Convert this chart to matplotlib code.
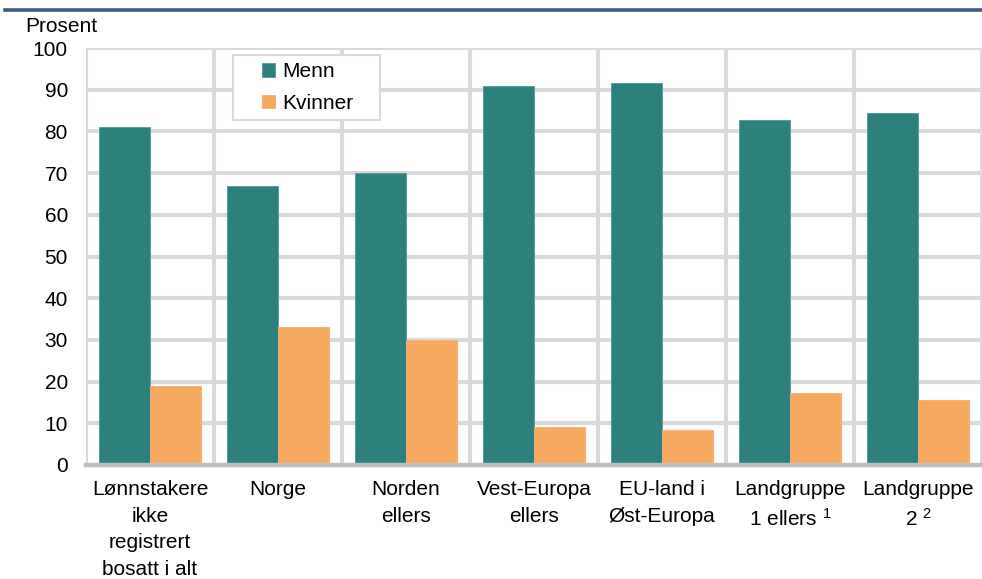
import matplotlib
matplotlib.use("Agg")
import matplotlib.pyplot as plt
import numpy as np
from matplotlib.lines import Line2D
from matplotlib.patches import Rectangle

categories = ["Lønnstakere\nikke\nregistrert\nbosatt i alt", "Norge", "Norden\nellers",
              "Vest-Europa\nellers", "EU-land i\nØst-Europa", "Landgruppe\n1 ellers $^{1}$",
              "Landgruppe\n2 $^{2}$"]
menn = [81.0, 67.0, 70.0, 91.0, 91.5, 82.8, 84.4]
kvinner = [19.0, 33.0, 30.0, 9.0, 8.5, 17.2, 15.6]
yticks = list(range(0, 101, 10))

plt.rcParams['font.family'] = ['Liberation Sans', 'DejaVu Sans']
plt.rcParams['font.size'] = 15
plt.rcParams['mathtext.fontset'] = 'custom'
plt.rcParams['mathtext.rm'] = 'Liberation Sans'
plt.rcParams['mathtext.it'] = 'Liberation Sans:italic'
plt.rcParams['mathtext.default'] = 'regular'

MENN = '#2c817f'
KVIN = '#f7aa5f'
GRID = '#d9d9d9'

fig = plt.figure(figsize=(9.82, 5.79), dpi=100)
ax = fig.add_axes([86/982, (579-465)/579, (982-86)/982, 417/579])

x = np.arange(len(categories))
ax.bar(x - 0.2, menn, width=0.4, color=MENN, edgecolor='#4f9997', linewidth=0.6, zorder=3, label='Menn')
ax.bar(x + 0.2, kvinner, width=0.4, color=KVIN, edgecolor='#f4b06e', linewidth=0.6, zorder=3, label='Kvinner')

ax.set_xlim(-0.5, len(categories) - 0.5)
ax.set_ylim(0, 100)
ax.set_yticks(yticks)
ax.set_xticks(x)
ax.set_xticklabels(categories, linespacing=1.5)
ax.set_xticks(np.arange(-0.5, len(categories) + 0.5, 1), minor=True)
ax.grid(True, which='major', axis='y', color=GRID, linewidth=3.0, zorder=0)
ax.grid(True, which='minor', axis='x', color=GRID, linewidth=3.0, zorder=0)
ax.set_axisbelow(True)
ax.tick_params(axis='both', which='both', length=0)
ax.tick_params(axis='y', pad=13)
ax.tick_params(axis='x', pad=11)
for s in ['top', 'right', 'left']:
    ax.spines[s].set_visible(False)
ax.spines['bottom'].set_color('#bfbfbf')
ax.spines['bottom'].set_linewidth(3.2)
ax.spines['bottom'].set_zorder(4)

# legend frame
ax.add_patch(Rectangle((0.164, 0.827), 0.164, 0.156, transform=ax.transAxes,
                       facecolor='white', edgecolor=GRID, linewidth=1.5, zorder=5))
leg = ax.legend(loc='upper left', bbox_to_anchor=(0.196, 0.966), frameon=False,
                borderpad=0, handlelength=0.62, handleheight=0.62, handletextpad=0.35,
                labelspacing=0.6, borderaxespad=0)
leg.set_zorder(6)

fig.text(25/982, 1 - 32/579, 'Prosent', ha='left', va='baseline', fontsize=15)
fig.add_artist(Line2D([5/982, 1.0], [1 - 10/579, 1 - 10/579], color='#3e5a84', linewidth=2.6))

fig.savefig('out.png', dpi=100)
